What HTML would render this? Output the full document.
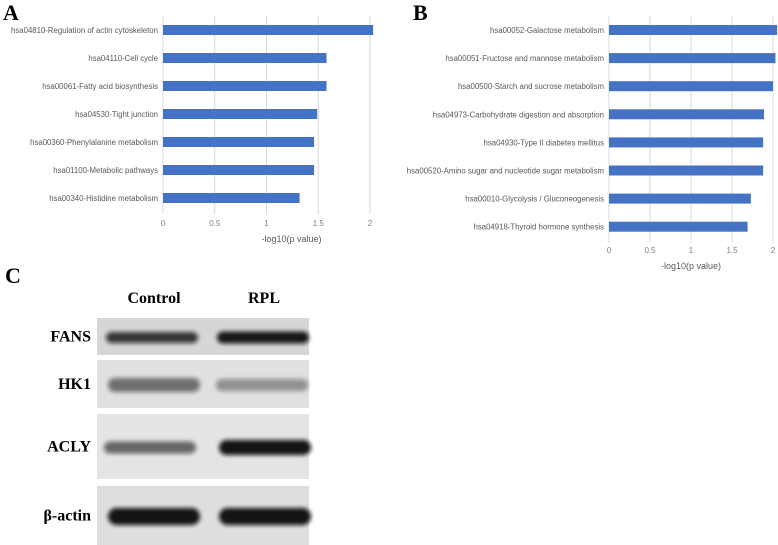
<!DOCTYPE html>
<html><head><meta charset="utf-8"><style>
body{margin:0;background:#fff;width:778px;height:545px;overflow:hidden}
svg{display:block}
.lbl{font-family:"Liberation Sans",sans-serif;font-size:7.8px;fill:#595959}
.tick{font-family:"Liberation Sans",sans-serif;font-size:8px;fill:#7f7f7f}
.ttl{font-family:"Liberation Sans",sans-serif;font-size:9px;fill:#595959}
.pan{font-family:"Liberation Serif",serif;font-weight:bold;font-size:22px;fill:#000}
.wb{font-family:"Liberation Serif",serif;font-weight:bold;font-size:16px;fill:#000}
</style></head><body>
<svg id="fig" width="778" height="545">
<defs>
<filter id="blur" x="-20%" y="-100%" width="140%" height="300%"><feGaussianBlur stdDeviation="2.2"/></filter>
</defs>
<text class="pan" x="3" y="20">A</text>
<text class="pan" x="413" y="20">B</text>
<text class="pan" x="5" y="283">C</text>
<g id="chartA"></g>
<g id="chartB"></g>
<g id="blot"></g>
</svg>
<script>
const catsA=["hsa04810-Regulation of actin cytoskeleton","hsa04110-Cell cycle","hsa00061-Fatty acid biosynthesis","hsa04530-Tight junction","hsa00360-Phenylalanine metabolism","hsa01100-Metabolic pathways","hsa00340-Histidine metabolism"];
const valsA=[2.03,1.58,1.58,1.49,1.46,1.46,1.32];
const catsB=["hsa00052-Galactose metabolism","hsa00051-Fructose and mannose metabolism","hsa00500-Starch and sucrose metabolism","hsa04973-Carbohydrate digestion and absorption","hsa04930-Type II diabetes mellitus","hsa00520-Amino sugar and nucleotide sugar metabolism","hsa00010-Glycolysis / Gluconeogenesis","hsa04918-Thyroid hormone synthesis"];
const valsB=[2.05,2.03,2.0,1.89,1.88,1.88,1.73,1.69];
const ticks=[0,0.5,1,1.5,2];
const tickLabels=["0","0.5","1","1.5","2"];
const NS="http://www.w3.org/2000/svg";
function mk(tag,attrs,parent,text){const e=document.createElementNS(NS,tag);for(const k in attrs)e.setAttribute(k,attrs[k]);if(text!==undefined)e.textContent=text;parent.appendChild(e);return e;}
function draw(g,cats,vals,x0,ppu,top,step,tickY,titleY,name){
  const xs=v=>x0+v*ppu, yc=i=>top+step*i;
  const bottom=yc(cats.length-1)+step/2+2;
  ticks.forEach((t,i)=>{
    const l=mk('line',{x1:xs(t),x2:xs(t),y1:top-step/2,y2:bottom,stroke:'#d9d9d9','stroke-width':1},g);
    
    
    const tx=mk('text',{x:xs(t),y:tickY,'text-anchor':'middle',class:'tick'},g,tickLabels[i]);
    
    
  });
  cats.forEach((c,i)=>{
    const r=mk('rect',{x:xs(0),y:yc(i)-5,width:xs(vals[i])-xs(0),height:10,fill:'#4472c4'},g);
    
    
    const t=mk('text',{x:xs(0)-5,y:yc(i)+3,'text-anchor':'end',class:'lbl'},g,c);
    
    
  });
  const tt=mk('text',{x:(xs(0)+xs(2))/2+(name==='a'?25:0),y:titleY,'text-anchor':'middle',class:'ttl'},g,'-log10(p value)');
  
  
}
draw(document.getElementById('chartA'),catsA,valsA,163,103.5,30,28,226,242,'a');
draw(document.getElementById('chartB'),catsB,valsB,609,82,30,28.1,253,269,'b');
const blot=document.getElementById('blot');
const strips=[{n:'FANS',y:318,h:37,bg:'#d6d6d6',b:[[152,0.8,11],[263,0.95,12]]},{n:'HK1',y:360,h:48,bg:'#e0e0e0',b:[[154,0.55,14],[262,0.4,12]]},{n:'ACLY',y:414,h:65,bg:'#e4e4e4',b:[[150,0.6,12],[265,0.97,15]]},{n:'β-actin',y:486,h:59,bg:'#dedede',b:[[154,0.97,17],[265,0.97,17]]}];
strips.forEach(s=>{
  const r=mk('rect',{x:97,y:s.y,width:212,height:s.h,fill:s.bg},blot);
  
  
  s.b.forEach(b=>{
    const e=mk('rect',{x:b[0]-46,y:s.y+s.h/2+1-b[2]/2,width:92,height:b[2],rx:b[2]/2,fill:'#111','fill-opacity':b[1],filter:'url(#blur)'},blot);
    
    
  });
  const t=mk('text',{x:91,y:s.y+s.h/2+5,'text-anchor':'end',class:'wb'},blot,s.n);
  
  
});
const c1=mk('text',{x:154,y:303,'text-anchor':'middle',class:'wb'},blot,'Control');


const c2=mk('text',{x:264,y:303,'text-anchor':'middle',class:'wb'},blot,'RPL');


</script>
</body></html>
